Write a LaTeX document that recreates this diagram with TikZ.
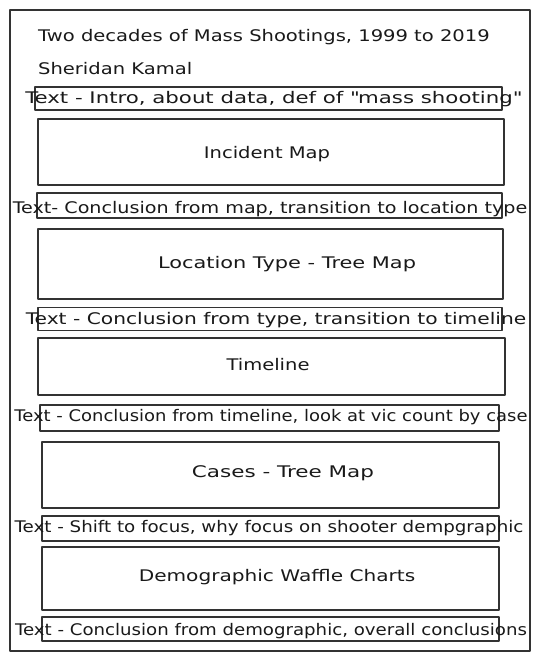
\documentclass[tikz,border=0pt]{standalone}
\usepackage{fontspec}
\setmainfont[FakeStretch=1.22]{DejaVu Sans}
\usepackage{graphicx}
\usepackage{tikz}

\begin{document}
\begin{tikzpicture}[x=1pt, y=-1pt, line join=round,
	frame/.style={draw=black!80, line width=1.3pt},
	part/.style={frame, minimum width=#1, inner sep=0pt},
	label/.style={font=\fontsize{16}{18}\selectfont, text=black!90, inner sep=0pt}]

% page size
\useasboundingbox (0,0) rectangle (541,661);

% outer frame
\draw[frame] (10,10) rectangle (530,651);

% heading
\node[label, anchor=west] (title) at (38,37) {Two decades of Mass Shootings, 1999 to 2019};
\node[label, anchor=west] (author) at (38,69) {Sheridan Kamal};

% text strips and chart boxes, top to bottom
\node[part=467pt, minimum height=23pt] (strip1) at (268.5,98.5) {};
\node[label] (txt1) at (273,99) {\scalebox{1.09}[1]{Text - Intro, about data, def of \textquotedbl mass shooting\textquotedbl}};

\node[part=466pt, minimum height=66pt] (map) at (271,152) {};
\node[label] (maplbl) at (267,154) {Incident Map};

\node[part=465pt, minimum height=25pt] (strip2) at (269.5,205.5) {};
\node[label] (txt2) at (270,209) {\scalebox{0.98}[1]{Text- Conclusion from map, transition to location type}};

\node[part=465pt, minimum height=70pt] (loc) at (270.5,264) {};
\node[label] (loclbl) at (287,264) {\scalebox{1.07}[1]{Location Type - Tree Map}};

\node[part=464pt, minimum height=23pt] (strip3) at (270,319) {};
\node[label] (txt3) at (276,320) {\scalebox{1.035}[1]{Text - Conclusion from type, transition to timeline}};

\node[part=467pt, minimum height=57pt] (timeline) at (271.5,366.5) {};
\node[label] (timelbl) at (268,365) {Timeline};

\node[part=459pt, minimum height=26pt] (strip4) at (269.5,418) {};
\node[label] (txt4) at (271,417) {\scalebox{0.92}[1]{Text - Conclusion from timeline, look at vic count by case}};

\node[part=457pt, minimum height=66pt] (cases) at (270.5,475) {};
\node[label] (caselbl) at (283,473) {\scalebox{1.1}[1]{Cases - Tree Map}};

\node[part=457pt, minimum height=25pt] (strip5) at (270.5,528.5) {};
\node[label] (txt5) at (269,528) {\scalebox{0.935}[1]{Text - Shift to focus, why focus on shooter dempgraphic}};

\node[part=457pt, minimum height=63pt] (demo) at (270.5,578.5) {};
\node[label] (demolbl) at (277,577) {\scalebox{1.03}[1]{Demographic Waffle Charts}};

\node[part=457pt, minimum height=24pt] (strip6) at (270.5,629) {};
\node[label] (txt6) at (271,631) {\scalebox{0.93}[1]{Text - Conclusion from demographic, overall conclusions}};

\end{tikzpicture}
\end{document}
